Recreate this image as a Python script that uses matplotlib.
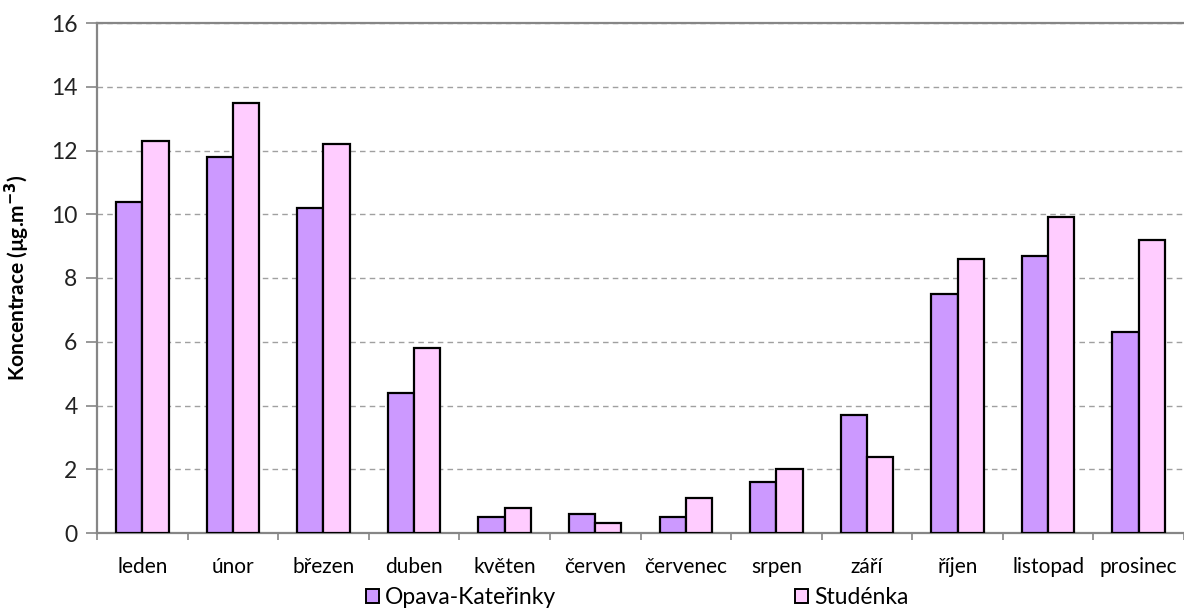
import matplotlib
matplotlib.use("Agg")
import matplotlib.pyplot as plt
import numpy as np
from matplotlib.patches import Patch

months = ["leden", "únor", "březen", "duben", "květen", "červen", "červenec",
          "srpen", "září", "říjen", "listopad", "prosinec"]
opava = [10.4, 11.8, 10.2, 4.4, 0.5, 0.6, 0.5, 1.6, 3.7, 7.5, 8.7, 6.3]
studenka = [12.3, 13.5, 12.2, 5.8, 0.8, 0.3, 1.1, 2.0, 2.4, 8.6, 9.9, 9.2]
series_names = ["Opava-Kateřinky", "Studénka"]
colors = ["#CC99FF", "#FFCCFF"]

plt.rcParams['font.family'] = ['Lato', 'DejaVu Sans']

fig = plt.figure(figsize=(11.84, 6.11), dpi=100)
ax = fig.add_axes([97/1184, 78/611, 1 - 97/1184, 510/611])

x = np.arange(len(months))
w = 0.29
ax.bar(x - w/2, opava, w, color=colors[0], edgecolor="black", linewidth=1.6, zorder=3)
ax.bar(x + w/2, studenka, w, color=colors[1], edgecolor="black", linewidth=1.6, zorder=3)

ax.set_xlim(-0.5, len(months) - 0.5)
ax.set_ylim(0, 16)
ax.set_yticks(np.arange(0, 17, 2))
ax.yaxis.grid(True, linestyle=(0, (4, 3)), color="#A0A0A0", linewidth=1.0, zorder=0)
ax.set_axisbelow(True)

ax.set_xticks(x)
ax.set_xticklabels(months, fontsize=15, color="black")
ax.set_xticks(np.arange(-0.5, len(months), 1), minor=True)
ax.tick_params(axis="x", which="major", length=0, pad=17)
ax.tick_params(axis="x", which="minor", length=5, width=1.2, color="#868686")
ax.tick_params(axis="y", length=8, width=1.2, color="#868686", labelsize=16.5, pad=6,
               labelcolor="#222222")

for s in ["left", "bottom", "top"]:
    ax.spines[s].set_color("#868686")
    ax.spines[s].set_linewidth(1.6)
ax.spines["right"].set_visible(False)

ax.set_ylabel(r"Koncentrace (µg.m$^{\mathbf{-3}}$)", fontsize=15, fontweight="bold")
ax.yaxis.set_label_coords(-0.060, 0.5)

handles = [Patch(facecolor=colors[0], edgecolor="black", linewidth=1.4),
           Patch(facecolor=colors[1], edgecolor="black", linewidth=1.4)]
fig.legend(handles, series_names, loc="center left", bbox_to_anchor=(345/1184, 0.022), ncol=2,
           frameon=False, fontsize=16.5, handlelength=0.6, handleheight=0.6,
           handletextpad=0.25, columnspacing=10.4)

fig.savefig("out.png", dpi=100)
